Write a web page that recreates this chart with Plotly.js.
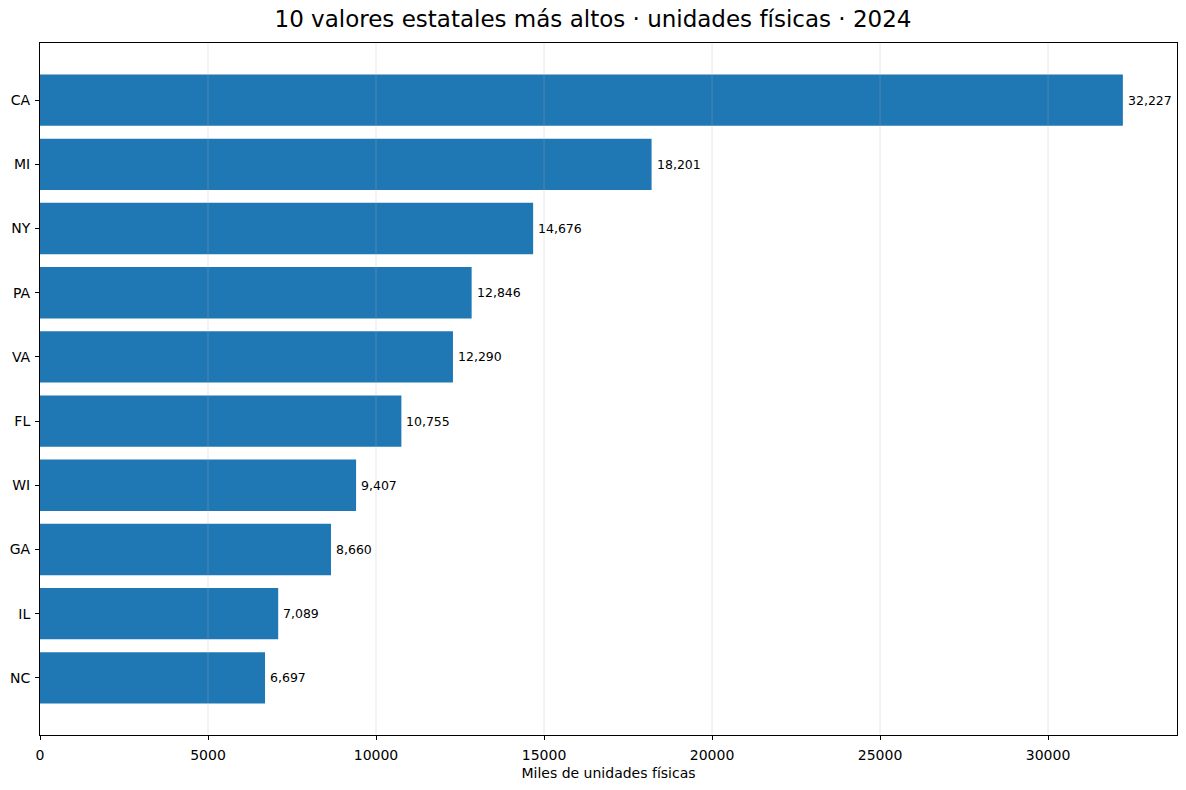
<!DOCTYPE html>
<html>
<head>
<meta charset="utf-8">
<script src="https://cdn.plot.ly/plotly-3.0.1.min.js"></script>
<style>
  html, body { margin: 0; padding: 0; background: #fff; }
  #grafico { width: 1186px; height: 790px; }
</style>
</head>
<body>
<div id="grafico"></div>
<script>
// Top 10 estados, miles de unidades físicas, 2024
const estados = ['CA', 'MI', 'NY', 'PA', 'VA', 'FL', 'WI', 'GA', 'IL', 'NC'];
const valores = [32227, 18201, 14676, 12846, 12290, 10755, 9407, 8660, 7089, 6697];
const ticksX = [0, 5000, 10000, 15000, 20000, 25000, 30000];

const FUENTE = 'DejaVu Sans, sans-serif';

const traza = {
  type: 'bar',
  orientation: 'h',
  x: valores,
  y: estados,
  width: 0.8,
  marker: { color: '#1f77b4', line: { width: 0 } },
  hoverinfo: 'x+y',
};

// etiquetas de valor a la derecha de cada barra
const etiquetas = valores.map((v, i) => ({
  x: v, y: estados[i],
  xref: 'x', yref: 'y',
  text: v.toLocaleString('en-US'),
  showarrow: false,
  xanchor: 'left', yanchor: 'middle',
  xshift: 3,
  font: { family: FUENTE, size: 12.5, color: '#000' },
}));

// rejilla vertical por encima de las barras, como en el original
const rejilla = ticksX.slice(1).map((t) => ({
  type: 'line',
  xref: 'x', yref: 'paper',
  x0: t, x1: t, y0: 0, y1: 1,
  line: { color: 'rgba(176,176,176,0.3)', width: 1 },
  layer: 'above',
}));

const layout = {
  width: 1186,
  height: 790,
  margin: { t: 43, r: 9, b: 55, l: 40 },
  paper_bgcolor: '#fff',
  plot_bgcolor: '#fff',
  showlegend: false,
  font: { family: FUENTE, size: 14, color: '#000' },
  title: {
    text: '10 valores estatales más altos · unidades físicas · 2024',
    font: { family: FUENTE, size: 23, color: '#000' },
    x: 0.5, xanchor: 'center',
    y: 1 - 19 / 790, yanchor: 'middle',
  },
  xaxis: {
    range: [0, 33838],
    tickvals: ticksX,
    ticktext: ticksX.map(String),
    ticks: 'outside', ticklen: 4, tickcolor: '#000', tickwidth: 1,
    ticklabelstandoff: 3,
    tickfont: { family: FUENTE, size: 14, color: '#000' },
    showgrid: false,
    showline: true, linecolor: '#000', linewidth: 1, mirror: true,
    zeroline: false,
    title: { text: 'Miles de unidades físicas', font: { family: FUENTE, size: 14, color: '#000' }, standoff: 6 },
  },
  yaxis: {
    type: 'category',
    categoryorder: 'array',
    categoryarray: estados,
    range: [9.89, -0.89],
    ticks: 'outside', ticklen: 4, tickcolor: '#000', tickwidth: 1,
    ticklabelstandoff: 2,
    tickfont: { family: FUENTE, size: 14, color: '#000' },
    showgrid: false,
    showline: true, linecolor: '#000', linewidth: 1, mirror: true,
    zeroline: false,
  },
  annotations: etiquetas,
  shapes: rejilla,
};

Plotly.newPlot('grafico', [traza], layout, { displayModeBar: false, staticPlot: true });
</script>
</body>
</html>
